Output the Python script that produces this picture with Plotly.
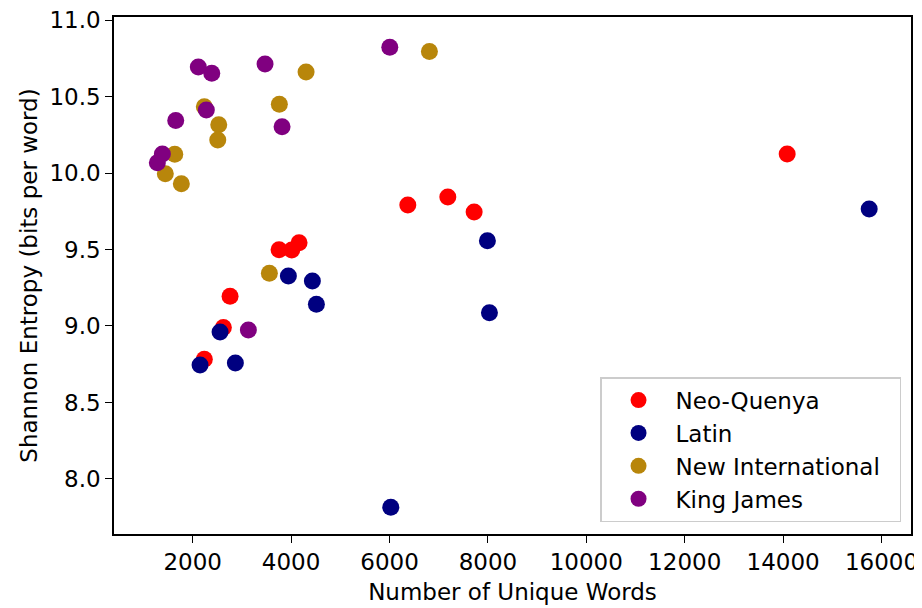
import plotly.graph_objects as go

series_names = ["Neo-Quenya", "Latin", "New International", "King James"]
series_colors = ["#ff0000", "#000080", "#b8860b", "#800080"]

quenya_x = [14083, 6372, 7185, 7720, 3755, 4013, 4162, 2759, 2623, 2236]
quenya_y = [10.124, 9.791, 9.843, 9.745, 9.499, 9.497, 9.544, 9.194, 8.990, 8.782]

latin_x = [15750, 7990, 8031, 3944, 4432, 4514, 2556, 2149, 2867, 6026]
latin_y = [9.765, 9.557, 9.087, 9.327, 9.294, 9.142, 8.961, 8.745, 8.758, 7.815]

niv_x = [4304, 3761, 2236, 2529, 2509, 1635, 1443, 1769, 6811, 3558]
niv_y = [10.660, 10.449, 10.433, 10.316, 10.216, 10.122, 9.995, 9.930, 10.795, 9.344]

kjv_x = [6006, 2114, 2387, 3470, 2277, 1655, 3816, 1383, 1281, 3131]
kjv_y = [10.822, 10.693, 10.652, 10.712, 10.412, 10.344, 10.303, 10.124, 10.067, 8.974]

xs = [quenya_x, latin_x, niv_x, kjv_x]
ys = [quenya_y, latin_y, niv_y, kjv_y]

x_ticks = [2000, 4000, 6000, 8000, 10000, 12000, 14000, 16000]
y_ticks = [8.0, 8.5, 9.0, 9.5, 10.0, 10.5, 11.0]

FONT = "DejaVu Sans"
FS = 23
PAD = "\u00a0\u00a0"  # invisible right padding inside the legend box

fig = go.Figure()
for name, color, x, y in zip(series_names, series_colors, xs, ys):
    fig.add_trace(go.Scatter(
        x=x, y=y, mode="markers", name=name + PAD,
        marker=dict(color=color, size=17, line=dict(width=0)),
    ))

# page body has an 8px margin: figure is sized/offset to compensate
fig.update_layout(
    width=914, height=600,
    margin=dict(l=106, r=11, t=9, b=74, autoexpand=False),
    paper_bgcolor="white", plot_bgcolor="white",
    font=dict(family=FONT, size=FS, color="black"),
    showlegend=True,
    legend=dict(
        x=0.9875, y=0.023, xanchor="right", yanchor="bottom",
        bgcolor="rgba(255,255,255,0.8)", bordercolor="#cccccc", borderwidth=1.5,
        font=dict(family=FONT, size=FS, color="black"),
        itemsizing="trace", itemwidth=64,
    ),
)
fig.update_xaxes(
    range=[400, 16600], tickvals=x_ticks, ticktext=[str(v) for v in x_ticks],
    showgrid=False, zeroline=False, automargin=False, ticklabeloverflow="allow",
    showline=True, linecolor="black", linewidth=1.5, mirror=True,
    ticks="outside", ticklen=7, tickwidth=1.3, tickcolor="black",
    title=dict(text="Number of Unique Words", font=dict(family=FONT, size=FS), standoff=10),
)
fig.update_yaxes(
    range=[7.64, 11.02], tickvals=y_ticks, ticktext=[f"{v:.1f}" for v in y_ticks],
    showgrid=False, zeroline=False, automargin=False, ticklabeloverflow="allow",
    showline=True, linecolor="black", linewidth=1.5, mirror=True,
    ticks="outside", ticklen=7, tickwidth=1.3, tickcolor="black",
    title=dict(text="Shannon Entropy (bits per word)", font=dict(family=FONT, size=FS), standoff=5),
)

fig.write_html("out.html")
